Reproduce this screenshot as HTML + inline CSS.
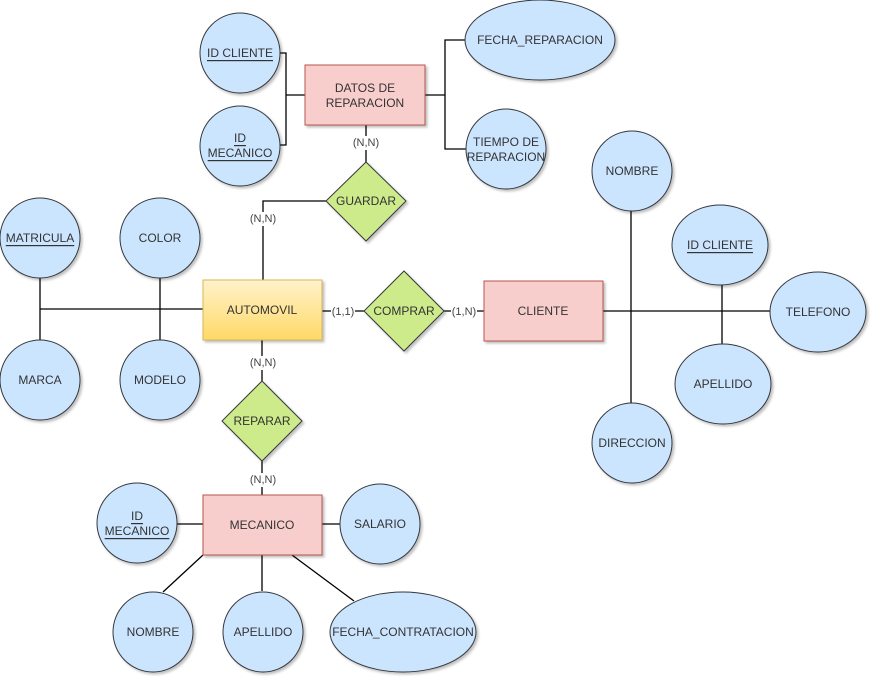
<!DOCTYPE html>
<html><head><meta charset="utf-8"><style>
html,body{margin:0;padding:0;background:#fff;}
svg{display:block;}
text{font-family:"Liberation Sans",Arial,sans-serif;font-size:12px;fill:#333;text-anchor:middle;dominant-baseline:central;}
.lbl{font-size:11px;fill:#444;}
</style></head><body>
<svg width="878" height="683" viewBox="0 0 878 683" xmlns="http://www.w3.org/2000/svg">
<defs>
<linearGradient id="yg" x1="0" y1="0" x2="0" y2="1"><stop offset="0" stop-color="#fff2cc"/><stop offset="1" stop-color="#ffd966"/></linearGradient>
<filter id="sh" x="-20%" y="-20%" width="150%" height="150%"><feDropShadow dx="2" dy="2" stdDeviation="1.2" flood-color="#000" flood-opacity="0.25"/></filter>
</defs>
<g stroke="#000" stroke-width="1.3" fill="none">
<!-- top -->
<polyline points="280,53 286,53 286,145 280,145"/>
<line x1="286" y1="95" x2="305" y2="95"/>
<line x1="425" y1="95" x2="445" y2="95"/>
<polyline points="465,40 445,40 445,149 466,149"/>
<line x1="366" y1="125" x2="366" y2="162"/>
<polyline points="326,201 263,201 263,280"/>
<!-- left -->
<line x1="40" y1="278" x2="40" y2="340"/>
<line x1="160" y1="278" x2="160" y2="340"/>
<line x1="40" y1="309" x2="203" y2="309"/>
<!-- comprar -->
<line x1="322" y1="311" x2="365" y2="311"/>
<line x1="444" y1="311" x2="484" y2="311"/>
<!-- right -->
<line x1="603" y1="311" x2="771" y2="311"/>
<line x1="631" y1="211" x2="631" y2="403"/>
<line x1="722" y1="285" x2="722" y2="344"/>
<!-- reparar -->
<line x1="262" y1="340" x2="262" y2="381"/>
<line x1="262" y1="461" x2="262" y2="495"/>
<!-- mecanico -->
<line x1="177" y1="524" x2="203" y2="524"/>
<line x1="322" y1="524" x2="340" y2="524"/>
<line x1="203" y1="555" x2="163" y2="592"/>
<line x1="262" y1="555" x2="262" y2="591"/>
<line x1="292" y1="555" x2="354" y2="601"/>
</g>
<g filter="url(#sh)" stroke="#36393d" stroke-width="1" fill="#cce5ff">
<circle cx="240" cy="53" r="40"/>
<circle cx="240" cy="146" r="40"/>
<ellipse cx="540" cy="40" rx="75" ry="40"/>
<circle cx="506" cy="149" r="40"/>
<circle cx="40" cy="238" r="40"/>
<circle cx="160" cy="238" r="40"/>
<circle cx="40" cy="380" r="40"/>
<circle cx="160" cy="380" r="40"/>
<circle cx="632" cy="171" r="40"/>
<ellipse cx="720" cy="245" rx="48" ry="40"/>
<ellipse cx="818" cy="312" rx="48" ry="40"/>
<ellipse cx="723" cy="384" rx="48" ry="40"/>
<circle cx="632" cy="443" r="40"/>
<circle cx="137" cy="523" r="40"/>
<circle cx="380" cy="524" r="40"/>
<circle cx="153" cy="632" r="40"/>
<circle cx="263" cy="632" r="40"/>
<ellipse cx="403" cy="632" rx="73" ry="40"/>
<rect x="305" y="65" width="120" height="60" fill="#f8cecc" stroke="#b85450"/>
<rect x="484" y="281" width="119" height="60" fill="#f8cecc" stroke="#b85450"/>
<rect x="203" y="495" width="119" height="60" fill="#f8cecc" stroke="#b85450"/>
<rect x="203" y="280" width="119" height="60" fill="url(#yg)" stroke="#d6b656"/>
<polygon points="366,162 406,201 366,241 326,201" fill="#cdeb8b"/>
<polygon points="404,271 444,311 404,351 364,311" fill="#cdeb8b"/>
<polygon points="262,381 302,421 262,461 222,421" fill="#cdeb8b"/>
</g>
<g>
<text x="240" y="53" text-decoration="underline">ID CLIENTE</text>
<text x="240" y="138" text-decoration="underline">ID</text>
<text x="240" y="153" text-decoration="underline">MECANICO</text>
<text x="365" y="88">DATOS DE</text>
<text x="365" y="103">REPARACION</text>
<text x="540" y="40">FECHA_REPARACION</text>
<text x="506" y="142">TIEMPO DE</text>
<text x="506" y="157">REPARACION</text>
<text x="366" y="201">GUARDAR</text>
<text x="40" y="238" text-decoration="underline">MATRICULA</text>
<text x="160" y="238">COLOR</text>
<text x="40" y="380">MARCA</text>
<text x="160" y="380">MODELO</text>
<text x="262" y="310">AUTOMOVIL</text>
<text x="404" y="311">COMPRAR</text>
<text x="543" y="311">CLIENTE</text>
<text x="632" y="171">NOMBRE</text>
<text x="720" y="245" text-decoration="underline">ID CLIENTE</text>
<text x="818" y="312">TELEFONO</text>
<text x="723" y="384">APELLIDO</text>
<text x="632" y="443">DIRECCION</text>
<text x="262" y="421">REPARAR</text>
<text x="262" y="525">MECANICO</text>
<text x="137" y="516" text-decoration="underline">ID</text>
<text x="137" y="531" text-decoration="underline">MECANICO</text>
<text x="380" y="524">SALARIO</text>
<text x="153" y="632">NOMBRE</text>
<text x="263" y="632">APELLIDO</text>
<text x="403" y="632">FECHA_CONTRATACION</text>
</g>
<g>
<rect x="351" y="136" width="30" height="14" fill="#fff"/><text class="lbl" x="366" y="143">(N,N)</text>
<rect x="248" y="212" width="30" height="14" fill="#fff"/><text class="lbl" x="263" y="219">(N,N)</text>
<rect x="331" y="305" width="24" height="14" fill="#fff"/><text class="lbl" x="343" y="312">(1,1)</text>
<rect x="451" y="305" width="26" height="14" fill="#fff"/><text class="lbl" x="464" y="312">(1,N)</text>
<rect x="248" y="356" width="30" height="14" fill="#fff"/><text class="lbl" x="263" y="363">(N,N)</text>
<rect x="248" y="473" width="30" height="14" fill="#fff"/><text class="lbl" x="263" y="480">(N,N)</text>
</g>
</svg>
</body></html>
